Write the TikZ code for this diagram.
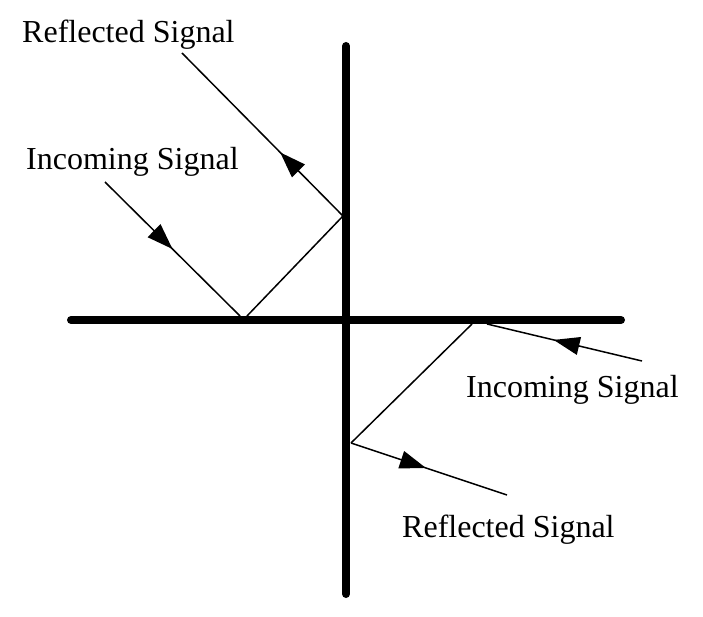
\documentclass[tikz,border=0pt]{standalone}
\usepackage{fontspec}
\setmainfont{Liberation Serif}
\usetikzlibrary{arrows.meta,decorations.markings}
\tikzset{
  wall/.style={line width=8pt, line cap=round},
  ray/.style={line width=1.5pt},
  lbl/.style={inner sep=0pt, anchor=base west, font=\fontsize{32}{36}\selectfont},
  midarrow/.style={postaction={decorate}, decoration={markings,
    mark=at position #1 with {\arrow{Triangle[length=26pt,width=18pt]}}}}
}
\begin{document}
\begin{tikzpicture}[x=1pt,y=-1pt]
\useasboundingbox (0,0) rectangle (703,617);
% walls
\coordinate (vt) at (346,46);
\coordinate (vb) at (346,594);
\coordinate (hl) at (71,320);
\coordinate (hr) at (621,320);
\draw[wall] (vt) -- (vb);
\draw[wall] (hl) -- (hr);
% upper-left rays
\coordinate (a1) at (105,182);
\coordinate (b1) at (240,316);
\coordinate (b2) at (247,316);
\coordinate (c1) at (343,216);
\coordinate (d1) at (182,53);
\draw[ray, midarrow=0.5] (a1) -- (b1);
\draw[ray] (b2) -- (c1);
\draw[ray, midarrow=0.39] (c1) -- (d1);
% lower-right rays
\coordinate (a2) at (642,361);
\coordinate (b3) at (487,324);
\coordinate (b4) at (472,324);
\coordinate (c2) at (351,443);
\coordinate (d2) at (507,495);
\draw[ray, midarrow=0.57] (a2) -- (b3);
\draw[ray] (b4) -- (c2);
\draw[ray, midarrow=0.48] (c2) -- (d2);
% labels
\node[lbl] (t1) at (22,43) {Reflected Signal};
\node[lbl] (t2) at (26,170) {Incoming Signal};
\node[lbl] (t3) at (466,397) {Incoming Signal};
\node[lbl] (t4) at (402,537) {Reflected Signal};
\end{tikzpicture}
\end{document}
